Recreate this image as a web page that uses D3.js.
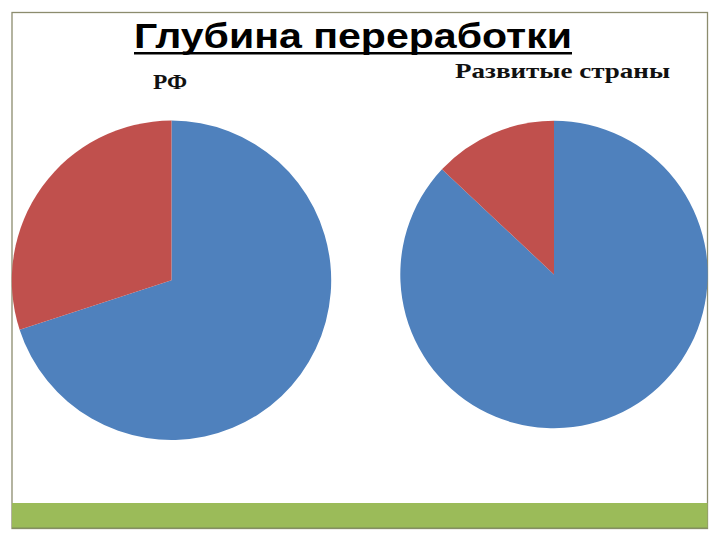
<!DOCTYPE html>
<html><head><meta charset="utf-8">
<script src="https://cdn.jsdelivr.net/npm/d3@7"></script>
<style>html,body{margin:0;padding:0;background:#fff}</style>
</head><body>
<script>
const title = "Глубина переработки";
const pieTitles = ["РФ", "Развитые страны"];
const categories = ["Светлые", "Прочие"];
const valuesRF = [70, 30];
const valuesDev = [87, 13];
const colors = ["#4F81BD", "#C0504D"];

const W = 720, H = 540;
const svg = d3.select("body").append("svg").attr("width", W).attr("height", H);

// frame
svg.append("rect").attr("x", 12).attr("y", 12.5).attr("width", 695.5).attr("height", 516)
  .attr("fill", "#fff").attr("stroke", "#8c8c6e").attr("stroke-width", 1.3);
svg.append("rect").attr("x", 12).attr("y", 503).attr("width", 695.5).attr("height", 25)
  .attr("fill", "#9BBB59");
svg.append("line").attr("x1", 12).attr("x2", 707.5).attr("y1", 528).attr("y2", 528)
  .attr("stroke", "#7f8f5a").attr("stroke-width", 1.2);

// title
svg.append("text").attr("x", 134).attr("y", 48).text(title)
  .attr("font-family", "Liberation Sans, Arial, sans-serif").attr("font-weight", "bold")
  .attr("font-size", 35).attr("textLength", 438).attr("lengthAdjust", "spacingAndGlyphs")
  .attr("fill", "#000");
svg.append("rect").attr("x", 134).attr("y", 52).attr("width", 438).attr("height", 2.5).attr("fill", "#000");

const pies = [
  {values: valuesRF, cx: 171.5, cy: 280.3, r: 159.7, label: pieTitles[0], lx: 153, ly: 89, lw: 34, fs: 20},
  {values: valuesDev, cx: 554, cy: 274.5, r: 153.7, label: pieTitles[1], lx: 455, ly: 77.5, lw: 215, fs: 22}
];

const colorScale = d3.scaleOrdinal().domain(categories).range(colors);

pies.forEach(p => {
  const arcsData = d3.pie().sort(null).value(d => d)(p.values);
  const arc = d3.arc().innerRadius(0).outerRadius(p.r);
  const g = svg.append("g").attr("transform", `translate(${p.cx},${p.cy})`);
  g.selectAll("path").data(arcsData).join("path")
    .attr("d", arc)
    .attr("fill", (d, i) => colorScale(categories[i]));
  svg.append("text").attr("x", p.lx).attr("y", p.ly).text(p.label)
    .attr("font-family", "Liberation Serif, Times New Roman, serif").attr("font-weight", "bold")
    .attr("font-size", p.fs).attr("textLength", p.lw).attr("lengthAdjust", "spacingAndGlyphs")
    .attr("fill", "#111");
});
</script>
</body></html>
